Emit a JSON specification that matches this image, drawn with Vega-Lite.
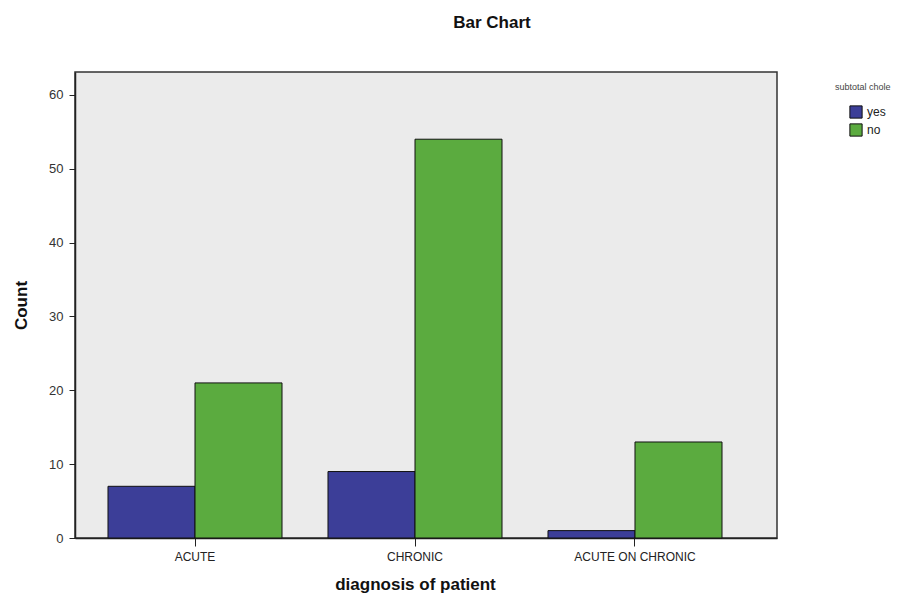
{
  "$schema": "https://vega.github.io/schema/vega-lite/v6.json",
  "width": 702,
  "height": 466,
  "autosize": {"type": "none"},
  "padding": {"left": 75, "top": 72, "right": 140, "bottom": 61},
  "background": "white",
  "title": {
    "text": "Bar Chart",
    "font": "Liberation Sans",
    "fontSize": 17,
    "fontWeight": "bold",
    "color": "#111",
    "anchor": "middle",
    "dx": 66,
    "offset": 40
  },
  "data": {
    "values": [
      {"diagnosis": "ACUTE", "subtotal": "yes", "count": 7},
      {"diagnosis": "ACUTE", "subtotal": "no", "count": 21},
      {"diagnosis": "CHRONIC", "subtotal": "yes", "count": 9},
      {"diagnosis": "CHRONIC", "subtotal": "no", "count": 54},
      {"diagnosis": "ACUTE ON CHRONIC", "subtotal": "yes", "count": 1},
      {"diagnosis": "ACUTE ON CHRONIC", "subtotal": "no", "count": 13}
    ]
  },
  "mark": {"type": "bar", "stroke": "#111", "strokeWidth": 1},
  "encoding": {
    "x": {
      "field": "diagnosis",
      "type": "nominal",
      "sort": ["ACUTE", "CHRONIC", "ACUTE ON CHRONIC"],
      "scale": {"paddingInner": 0.209, "paddingOuter": 0.2, "align": 0.375},
      "axis": {
        "title": "diagnosis of patient",
        "titleFont": "Liberation Sans",
        "titleFontSize": 17,
        "titleFontWeight": "bold",
        "titleColor": "#111",
        "titlePadding": 14,
        "titleX": 340,
        "labelAngle": 0,
        "labelFont": "Liberation Sans",
        "labelFontSize": 12,
        "labelColor": "#222",
        "labelPadding": 5,
        "tickColor": "#222",
        "tickSize": 8,
        "domainColor": "#222",
        "domainWidth": 1.5
      }
    },
    "xOffset": {
      "field": "subtotal",
      "type": "nominal",
      "sort": ["yes", "no"],
      "scale": {"paddingInner": 0, "paddingOuter": 0}
    },
    "y": {
      "field": "count",
      "type": "quantitative",
      "scale": {"domain": [0, 63.1], "nice": false, "zero": true},
      "axis": {
        "title": "Count",
        "values": [0, 10, 20, 30, 40, 50, 60],
        "grid": false,
        "titleFont": "Liberation Sans",
        "titleFontSize": 17,
        "titleFontWeight": "bold",
        "titleColor": "#111",
        "titlePadding": 18,
        "labelFont": "Liberation Sans",
        "labelFontSize": 13,
        "labelColor": "#333",
        "labelPadding": 6,
        "tickColor": "#222",
        "tickSize": 6,
        "domainColor": "#222",
        "domainWidth": 1.5
      }
    },
    "color": {
      "field": "subtotal",
      "type": "nominal",
      "sort": ["yes", "no"],
      "scale": {"domain": ["yes", "no"], "range": ["#3c3e98", "#5bab3f"]},
      "legend": {
        "title": "subtotal chole",
        "orient": "none",
        "legendX": 760,
        "legendY": 11,
        "titleFont": "Liberation Sans",
        "titleFontSize": 9,
        "titleFontWeight": "normal",
        "titleColor": "#444",
        "titlePadding": 13,
        "labelFont": "Liberation Sans",
        "labelFontSize": 12,
        "labelColor": "#222",
        "labelOffset": 4,
        "symbolType": "square",
        "symbolSize": 150,
        "symbolOffset": 14,
        "symbolStrokeColor": "#111",
        "symbolStrokeWidth": 1,
        "rowPadding": 0,
        "offset": 0,
        "padding": 0
      }
    }
  },
  "config": {
    "view": {"fill": "#ebebeb", "stroke": "#333", "strokeWidth": 1.5}
  }
}
